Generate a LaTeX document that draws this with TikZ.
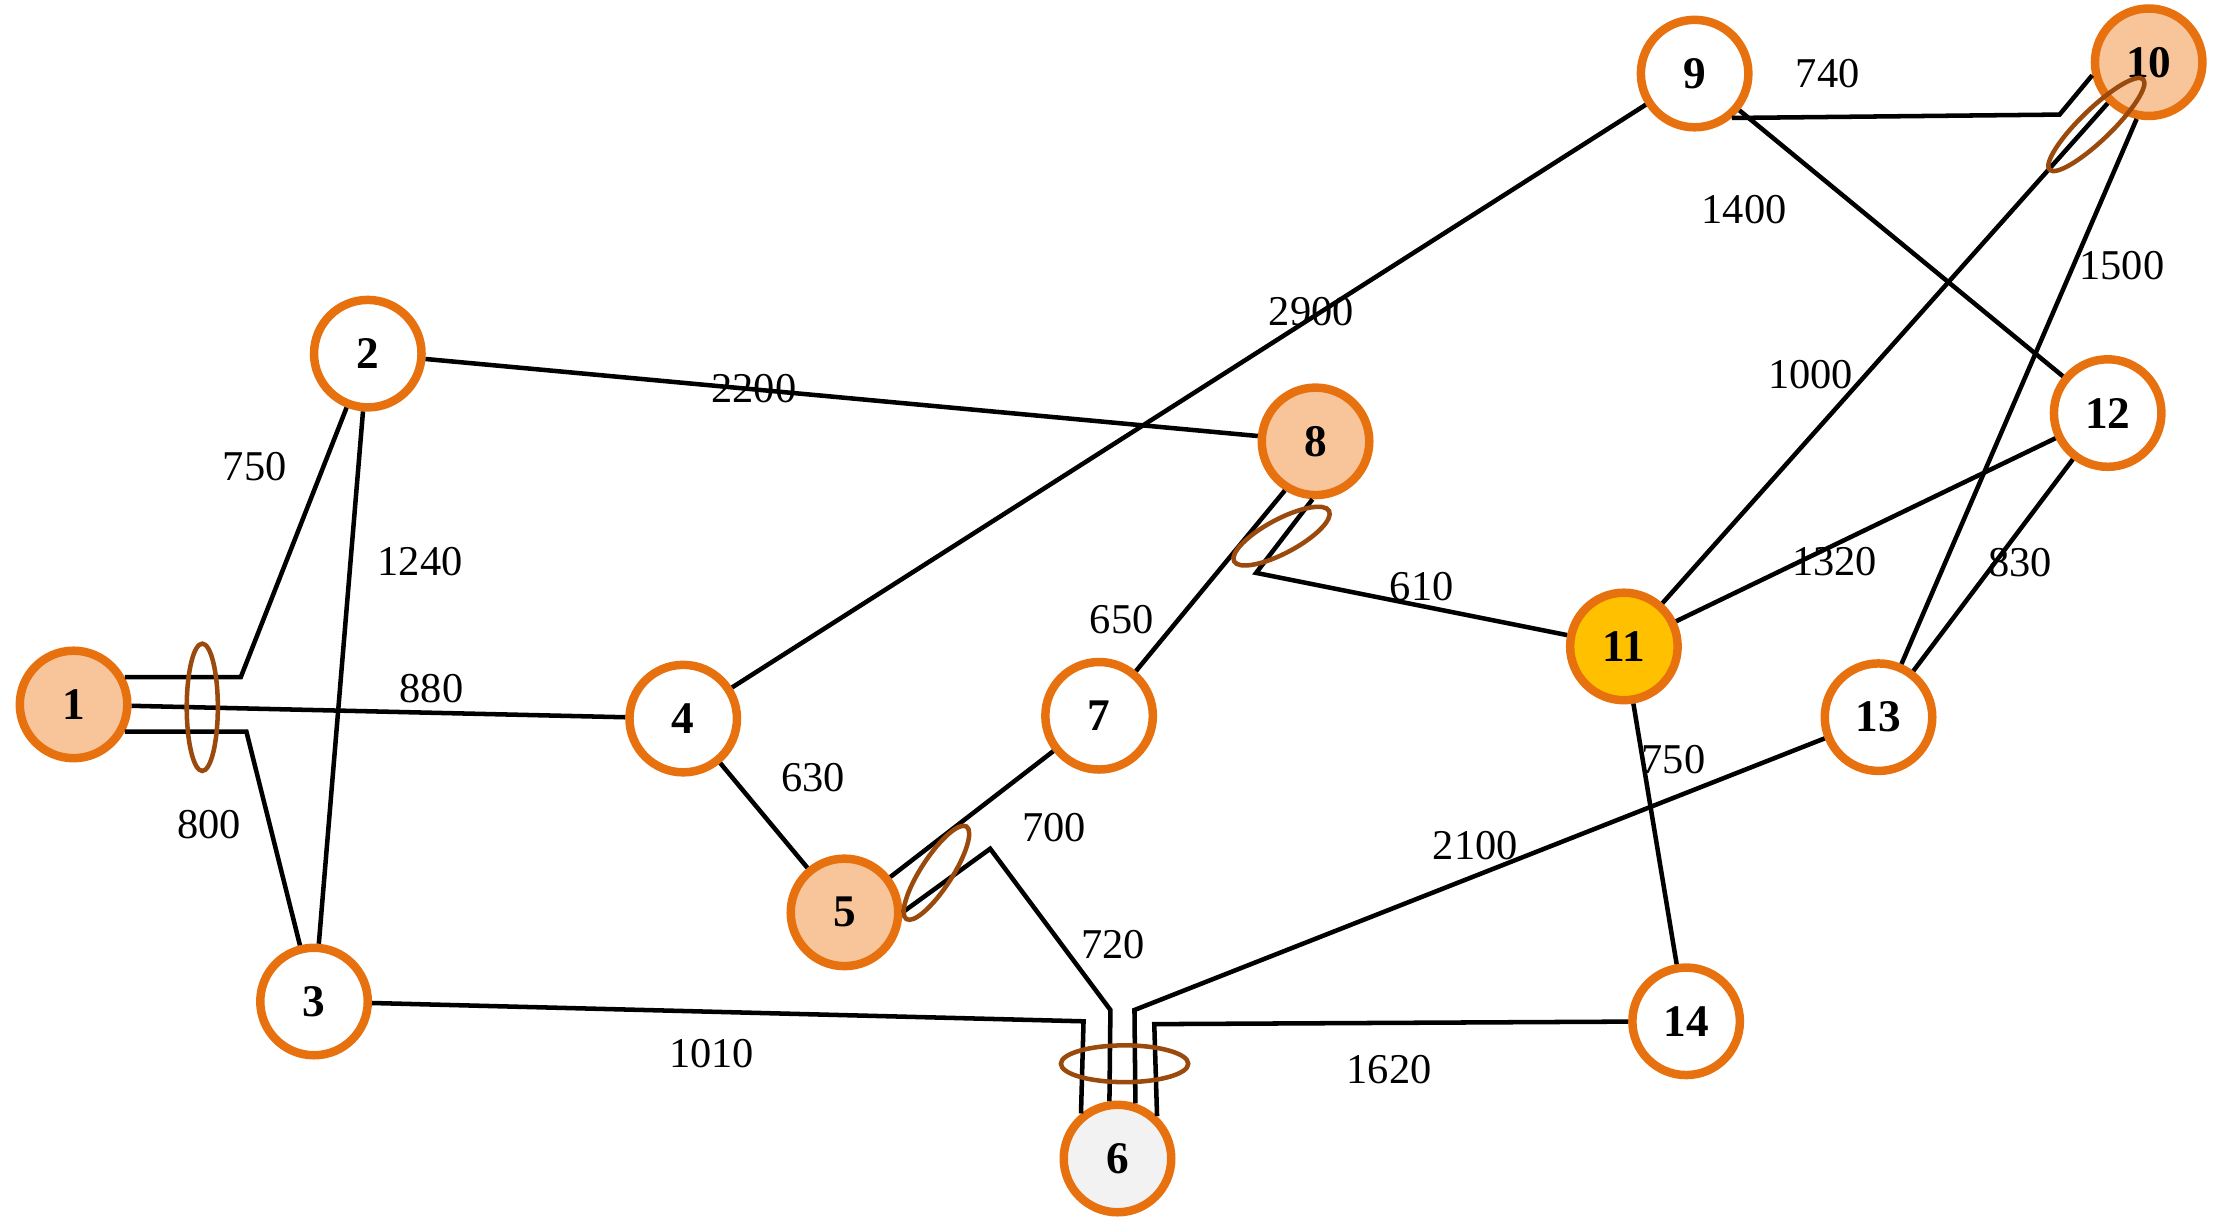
\documentclass[tikz,border=0pt]{standalone}
\usepackage{fontspec}
\setmainfont{Liberation Serif}
\begin{document}
\definecolor{ob}{HTML}{E8710F}
\definecolor{peach}{HTML}{F8C49A}
\definecolor{gold}{HTML}{FFC000}
\definecolor{lgray}{HTML}{F2F2F2}
\definecolor{brn}{HTML}{9A4A0C}
\begin{tikzpicture}[x=0.5pt,y=-0.5pt,
  bus/.style={circle,draw=ob,line width=3pt,fill=white,minimum size=38pt,inner sep=0pt,font=\fontsize{16}{16}\selectfont\bfseries},
  ln/.style={line width=1.6pt,black},
  ring/.style={draw=brn,line width=1.6pt},
  lab/.style={font=\fontsize{15}{15}\selectfont}]
\useasboundingbox (0,0) rectangle (1568,868);
\node[bus,fill=peach] (n1) at (52,498) {1};
\node[bus] (n2) at (260,250) {2};
\node[bus] (n3) at (222,708) {3};
\node[bus] (n4) at (483,508) {4};
\node[bus,fill=peach] (n5) at (597,645) {5};
\node[bus,fill=lgray] (n6) at (790,819) {6};
\node[bus] (n7) at (777,506) {7};
\node[bus,fill=peach] (n8) at (930,312) {8};
\node[bus] (n9) at (1198,52) {9};
\node[bus,fill=peach] (n10) at (1519,44) {10};
\node[bus,fill=gold] (n11) at (1148,457) {11};
\node[bus] (n12) at (1490,292) {12};
\node[bus] (n13) at (1328,507) {13};
\node[bus] (n14) at (1192,722) {14};
\coordinate (c56) at (700,600);
\coordinate (d56) at (785,714);
\coordinate (c36) at (766,722);
\coordinate (c613) at (802,714);
\coordinate (c614) at (816,724);
\coordinate (c811) at (888,405);
\coordinate (c910) at (1456,81);
\begin{scope}[on background layer/.style={}]
\draw[ln] (n1.28) -- ++(82,0) -- (n2);
\draw[ln] (n1) -- (n4);
\draw[ln] (n1.-28) -- ++(86,0) -- (n3);
\draw[ln] (n2) -- (n3);
\draw[ln] (n2) -- (n8);
\draw[ln] (n4) -- (n9);
\draw[ln] (n4) -- (n5);
\draw[ln] (n5) -- (n7);
\draw[ln] (n5.east) -- (c56) -- (d56) -- (n6.98);
\draw[ln] (n3) -- (c36) -- (n6.129);
\draw[ln] (n6.72) -- (c613) -- (n13);
\draw[ln] (n6.47) -- (c614) -- (n14);
\draw[ln] (n7) -- (n8.238);
\draw[ln] (n8.267) -- (c811) -- (n11);
\draw[ln] (n9.-50) -- (c910) -- (n10.193);
\draw[ln] (n9) -- (n12);
\draw[ln] (n10.225) -- (n11);
\draw[ln] (n10.258) -- (n13);
\draw[ln] (n11) -- (n12);
\draw[ln] (n12) -- (n13);
\draw[ln] (n11) -- (n14);
\end{scope}
\draw[ring] (143,500) ellipse [x radius=11,y radius=45];
\draw[ring,rotate around={57:(662,617)}] (662,617) ellipse [x radius=39,y radius=11];
\draw[ring,rotate around={28:(906,379)}] (906,379) ellipse [x radius=38,y radius=12];
\draw[ring,rotate around={44:(1482,88)}] (1482,88) ellipse [x radius=46,y radius=11];
\draw[ring] (795,752) ellipse [x radius=45,y radius=13];
\node[lab] (l1) at (180,330) {750};
\node[lab] (l2) at (297,397) {1240};
\node[lab] (l3) at (305,487) {880};
\node[lab] (l4) at (148,583) {800};
\node[lab] (l5) at (533,275) {2200};
\node[lab] (l6) at (927,220) {2900};
\node[lab] (l7) at (575,550) {630};
\node[lab] (l8) at (745,585) {700};
\node[lab] (l9) at (787,668) {720};
\node[lab] (l10) at (793,438) {650};
\node[lab] (l11) at (1005,415) {610};
\node[lab] (l12) at (503,745) {1010};
\node[lab] (l13) at (982,756) {1620};
\node[lab] (l14) at (1043,598) {2100};
\node[lab] (l15) at (1183,537) {750};
\node[lab] (l16) at (1297,397) {1320};
\node[lab] (l17) at (1428,398) {830};
\node[lab] (l18) at (1280,265) {1000};
\node[lab] (l19) at (1233,148) {1400};
\node[lab] (l20) at (1500,188) {1500};
\node[lab] (l21) at (1292,52) {740};
\end{tikzpicture}
\end{document}
